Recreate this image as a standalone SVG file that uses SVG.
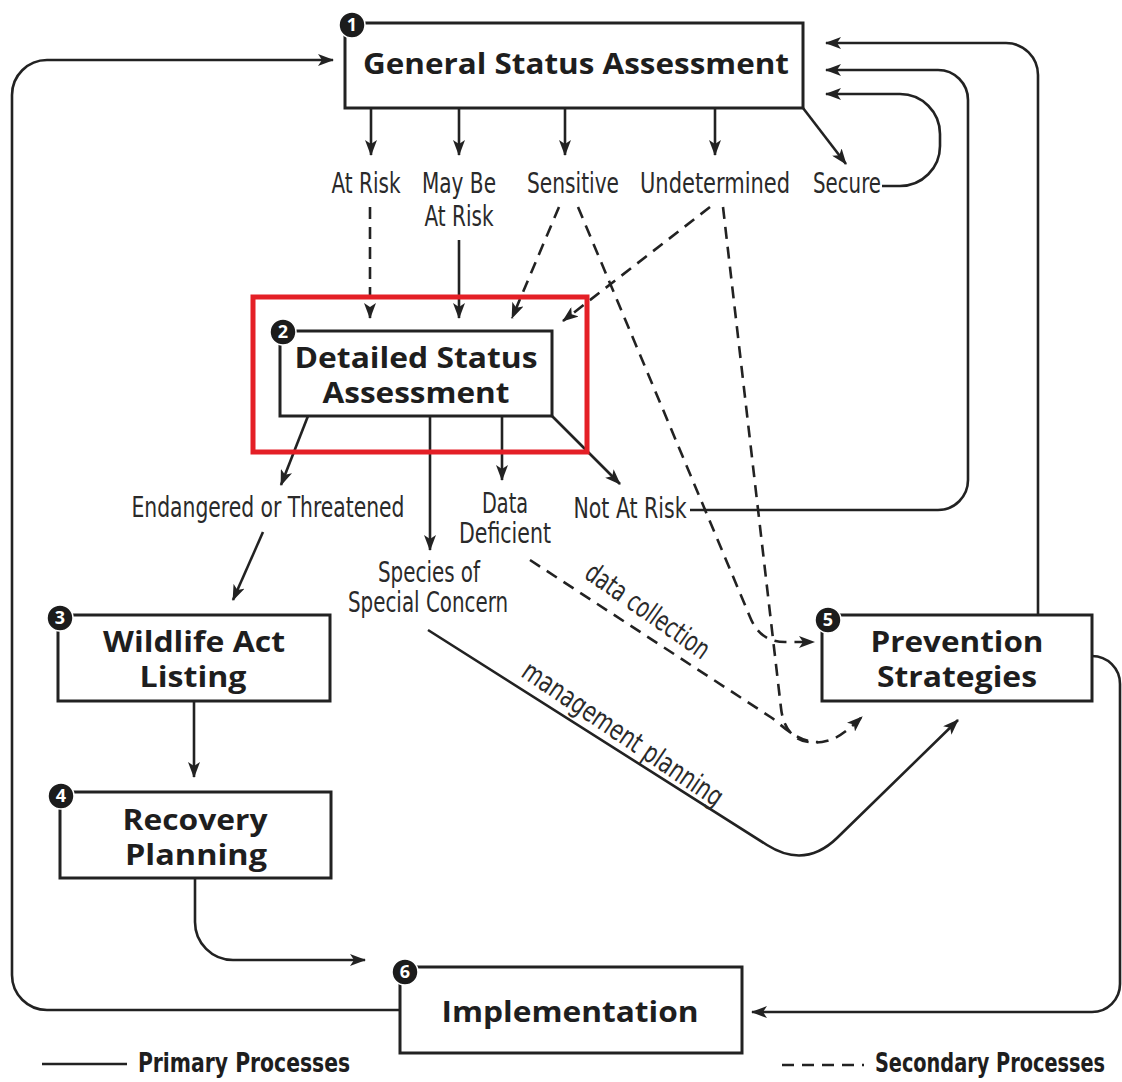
<svg xmlns="http://www.w3.org/2000/svg" width="1122" height="1082" viewBox="0 0 1122 1082">
<defs>
<marker id="ah" viewBox="0 0 16 12" refX="15" refY="6" markerWidth="16" markerHeight="12" markerUnits="userSpaceOnUse" orient="auto">
<path d="M0,0 L16,6 L0,12 L4,6 z" fill="#222"/>
</marker>
<style>
.box{fill:#fff;stroke:#222;stroke-width:3}
.badge{fill:#1c1c1c;stroke:#fff;stroke-width:1.5}
.bn{font-family:"Open Sans","DejaVu Sans",sans-serif;font-weight:700;font-size:18px;fill:#fff;text-anchor:middle}
.t{font-family:"Open Sans","DejaVu Sans",sans-serif;font-weight:700;font-size:28px;fill:#1e1e1e;text-anchor:middle}
.l{font-family:"Liberation Sans Narrow","DejaVu Sans Condensed","Liberation Sans",sans-serif;font-size:28px;fill:#2a2a2a;text-anchor:middle}
.lg{font-family:"Liberation Sans Narrow","DejaVu Sans Condensed","Liberation Sans",sans-serif;font-weight:700;font-size:26px;fill:#1e1e1e;text-anchor:middle}
.p{fill:none;stroke:#222;stroke-width:2.6}
.d{fill:none;stroke:#222;stroke-width:2.6;stroke-dasharray:12 8}
.a{marker-end:url(#ah)}
</style>
</defs>
<rect width="1122" height="1082" fill="#fff"/>

<g id="connectors">
<path class="p a" d="M371,108 V155"/>
<path class="p a" d="M459,108 V155"/>
<path class="p a" d="M565,108 V155"/>
<path class="p a" d="M715,108 V155"/>
<path class="p a" d="M803,108 L846,164"/>
<path class="p a" d="M882,186 H900 A40,40 0 0 0 940,146 V134 A40,40 0 0 0 900,94 H826"/>
<path class="p a" d="M690,510 H938 A30,30 0 0 0 968,480 V100 A30,30 0 0 0 938,70 H826"/>
<path class="p a" d="M1038,615 V75 A32,32 0 0 0 1006,43 H826"/>
<path class="p a" d="M400,1010 H47 A35,35 0 0 1 12,975 V95 A35,35 0 0 1 47,60 H333"/>
<path class="p a" d="M1092,656 A28,28 0 0 1 1120,684 V984 A28,28 0 0 1 1092,1012 H752"/>
<path class="p a" d="M194,702 V777"/>
<path class="p a" d="M195,878 V922 A38,38 0 0 0 233,960 H365"/>
<path class="p a" d="M263,532 L233,600"/>
<path class="p a" d="M308,416 L281,485"/>
<path class="p a" d="M430,416 V550"/>
<path class="p a" d="M502,416 V480"/>
<path class="p a" d="M552,416 L620,484"/>
<path class="p a" d="M459,240 V318"/>
<path class="p a" d="M428,630 L767,845 Q805,869 837,838 L958,720"/>
<path class="d a" d="M370,207 V318"/>
<path class="d a" d="M559,207 L512,318"/>
<path class="d a" d="M710,207 L563,321"/>
<path class="d a" d="M578,207 L750,617 Q760,642 785,642 L814,642"/>
<path class="d a" d="M723,207 L781,708 C784,735 800,745 822,742 C838,740 850,728 862,717"/>
<path class="d" d="M530,560 L772,718 C785,728 798,742 818,742"/>
<path class="p" d="M42,1064 H127"/>
<path class="d" d="M782,1065 H864"/>
</g>

<g id="labels">
<text class="l" x="366" y="193" textLength="69" lengthAdjust="spacingAndGlyphs">At Risk</text>
<text class="l" x="459" y="193" textLength="74" lengthAdjust="spacingAndGlyphs">May Be</text>
<text class="l" x="459" y="226" textLength="69" lengthAdjust="spacingAndGlyphs">At Risk</text>
<text class="l" x="573" y="193" textLength="92" lengthAdjust="spacingAndGlyphs">Sensitive</text>
<text class="l" x="715" y="193" textLength="150" lengthAdjust="spacingAndGlyphs">Undetermined</text>
<text class="l" x="847" y="193" textLength="68" lengthAdjust="spacingAndGlyphs">Secure</text>
<text class="l" x="268" y="517" textLength="273" lengthAdjust="spacingAndGlyphs">Endangered or Threatened</text>
<text class="l" x="505" y="513" textLength="46" lengthAdjust="spacingAndGlyphs">Data</text>
<text class="l" x="505" y="543" textLength="92" lengthAdjust="spacingAndGlyphs">Deficient</text>
<text class="l" x="630" y="518" textLength="113" lengthAdjust="spacingAndGlyphs">Not At Risk</text>
<text class="l" x="429" y="582" textLength="102" lengthAdjust="spacingAndGlyphs">Species of</text>
<text class="l" x="428" y="612" textLength="160" lengthAdjust="spacingAndGlyphs">Special Concern</text>
<text class="l" transform="translate(647,612) rotate(35)" x="0" y="8" textLength="145" lengthAdjust="spacingAndGlyphs">data collection</text>
<text class="l" transform="translate(622,735) rotate(34)" x="0" y="8" textLength="236" lengthAdjust="spacingAndGlyphs">management planning</text>
<text class="lg" transform="translate(244,1072) scale(0.75,1)" x="0" y="0" textLength="283" lengthAdjust="spacingAndGlyphs">Primary Processes</text>
<text class="lg" transform="translate(990,1072) scale(0.75,1)" x="0" y="0" textLength="307" lengthAdjust="spacingAndGlyphs">Secondary Processes</text>
</g>

<g id="node1">
<rect class="box" x="345" y="23" width="458" height="85"/>
<text class="t" x="576" y="74" textLength="426" lengthAdjust="spacingAndGlyphs">General Status Assessment</text>
<circle class="badge" cx="352" cy="25" r="13"/>
<text class="bn" x="352" y="31">1</text>
</g>

<g id="node2">
<rect class="box" x="280" y="331" width="272" height="85"/>
<text class="t" x="416" y="368" textLength="243" lengthAdjust="spacingAndGlyphs">Detailed Status</text>
<text class="t" x="416" y="403" textLength="187" lengthAdjust="spacingAndGlyphs">Assessment</text>
<circle class="badge" cx="283" cy="332" r="13"/>
<text class="bn" x="283" y="338">2</text>
</g>

<g id="node3">
<rect class="box" x="58" y="615" width="272" height="86"/>
<text class="t" x="194" y="652" textLength="182" lengthAdjust="spacingAndGlyphs">Wildlife Act</text>
<text class="t" x="193" y="687" textLength="107" lengthAdjust="spacingAndGlyphs">Listing</text>
<circle class="badge" cx="60" cy="618" r="13"/>
<text class="bn" x="60" y="624">3</text>
</g>

<g id="node4">
<rect class="box" x="60" y="792" width="271" height="86"/>
<text class="t" x="195" y="830" textLength="145" lengthAdjust="spacingAndGlyphs">Recovery</text>
<text class="t" x="196" y="865" textLength="142" lengthAdjust="spacingAndGlyphs">Planning</text>
<circle class="badge" cx="61" cy="796" r="13"/>
<text class="bn" x="61" y="802">4</text>
</g>

<g id="node5">
<rect class="box" x="822" y="615" width="270" height="86"/>
<text class="t" x="957" y="652" textLength="173" lengthAdjust="spacingAndGlyphs">Prevention</text>
<text class="t" x="957" y="687" textLength="160" lengthAdjust="spacingAndGlyphs">Strategies</text>
<circle class="badge" cx="828" cy="620" r="13"/>
<text class="bn" x="828" y="626">5</text>
</g>

<g id="node6">
<rect class="box" x="400" y="967" width="342" height="86"/>
<text class="t" x="570" y="1022" textLength="257" lengthAdjust="spacingAndGlyphs">Implementation</text>
<circle class="badge" cx="405" cy="972" r="13"/>
<text class="bn" x="405" y="978">6</text>
</g>

<g id="highlight">
<rect x="253" y="297" width="334" height="155" fill="none" stroke="#e41f26" stroke-width="5"/>
</g>
</svg>
